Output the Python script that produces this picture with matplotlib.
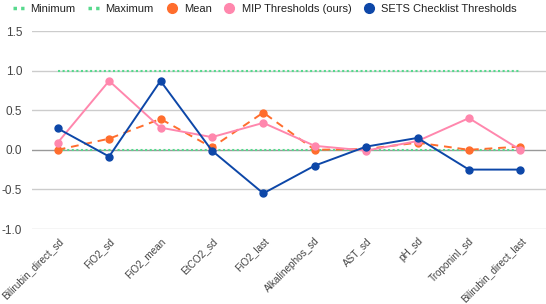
import matplotlib
matplotlib.use("Agg")
import matplotlib.pyplot as plt
from matplotlib.lines import Line2D

plt.rcParams['font.family'] = ['Liberation Sans', 'DejaVu Sans']

categories = ["Bilirubin_direct_sd", "FiO2_sd", "FiO2_mean", "EtCO2_sd", "FiO2_last",
              "Alkalinephos_sd", "AST_sd", "pH_sd", "TroponinI_sd", "Bilirubin_direct_last"]
minimum = [0, 0, 0, 0, 0, 0, 0, 0, 0, 0]
maximum = [1, 1, 1, 1, 1, 1, 1, 1, 1, 1]
mean = [0.0, 0.14, 0.39, 0.03, 0.47, 0.0, 0.01, 0.09, 0.0, 0.04]
mip = [0.09, 0.87, 0.28, 0.16, 0.34, 0.05, -0.01, 0.11, 0.40, 0.0]
sets = [0.27, -0.085, 0.87, -0.01, -0.55, -0.20, 0.04, 0.15, -0.25, -0.25]
yticks = [-1.0, -0.5, 0.0, 0.5, 1.0, 1.5]

green = '#57d98d'
orange = '#ff6d2d'
pink = '#ff87ad'
blue = '#0d47a8'

fig = plt.figure(figsize=(5.46, 3.04), dpi=100)
ax = fig.add_axes([32/546, 1-229/304, 1-32/546, 198/304])
x = list(range(len(categories)))

ax.plot(x, minimum, color=green, lw=1.5, ls=(0, (1, 1.2)), zorder=3)
ax.plot(x, maximum, color=green, lw=1.5, ls=(0, (1, 1.2)), zorder=3)
ax.plot(x, mean, color=orange, lw=1.4, ls=(0, (4, 3)), marker='o', ms=5, zorder=4)
ax.plot(x, mip, color=pink, lw=1.4, marker='o', ms=5, zorder=5)
ax.plot(x, sets, color=blue, lw=1.4, marker='o', ms=5, zorder=6)

ax.set_xlim(-0.5, 9.5)
ax.set_ylim(-1.0, 1.5)
ax.set_yticks(yticks)
ax.set_yticklabels([f"{v:.1f}" for v in yticks])
for v in yticks:
    ax.axhline(v, color='#999999' if v == 0 else '#cccccc', lw=1, zorder=1)
ax.set_xticks(x)
ax.set_xticklabels(categories, rotation=45, ha='right', rotation_mode='anchor')
ax.tick_params(axis='both', length=0, colors='#444444')
ax.tick_params(axis='x', pad=5, labelsize=7.2)
ax.tick_params(axis='y', pad=7, labelsize=8.5)
for s in ax.spines.values():
    s.set_visible(False)

handles = [
    Line2D([], [], color=green, lw=2.5, ls=(0, (1, 1.2))),
    Line2D([], [], color=green, lw=2.5, ls=(0, (1, 1.2))),
    Line2D([], [], color=orange, lw=0, marker='o', ms=7),
    Line2D([], [], color=pink, lw=0, marker='o', ms=7),
    Line2D([], [], color=blue, lw=0, marker='o', ms=7),
]
labels = ["Minimum", "Maximum", "Mean", "MIP Thresholds (ours)", "SETS Checklist Thresholds"]
fig.legend(handles, labels, loc='upper center', bbox_to_anchor=(0.485, 1.02), ncol=5,
           frameon=False, fontsize=8, handlelength=1.0, handletextpad=0.6,
           columnspacing=1.1, labelcolor='#222222')

fig.savefig('out.png', dpi=100)
